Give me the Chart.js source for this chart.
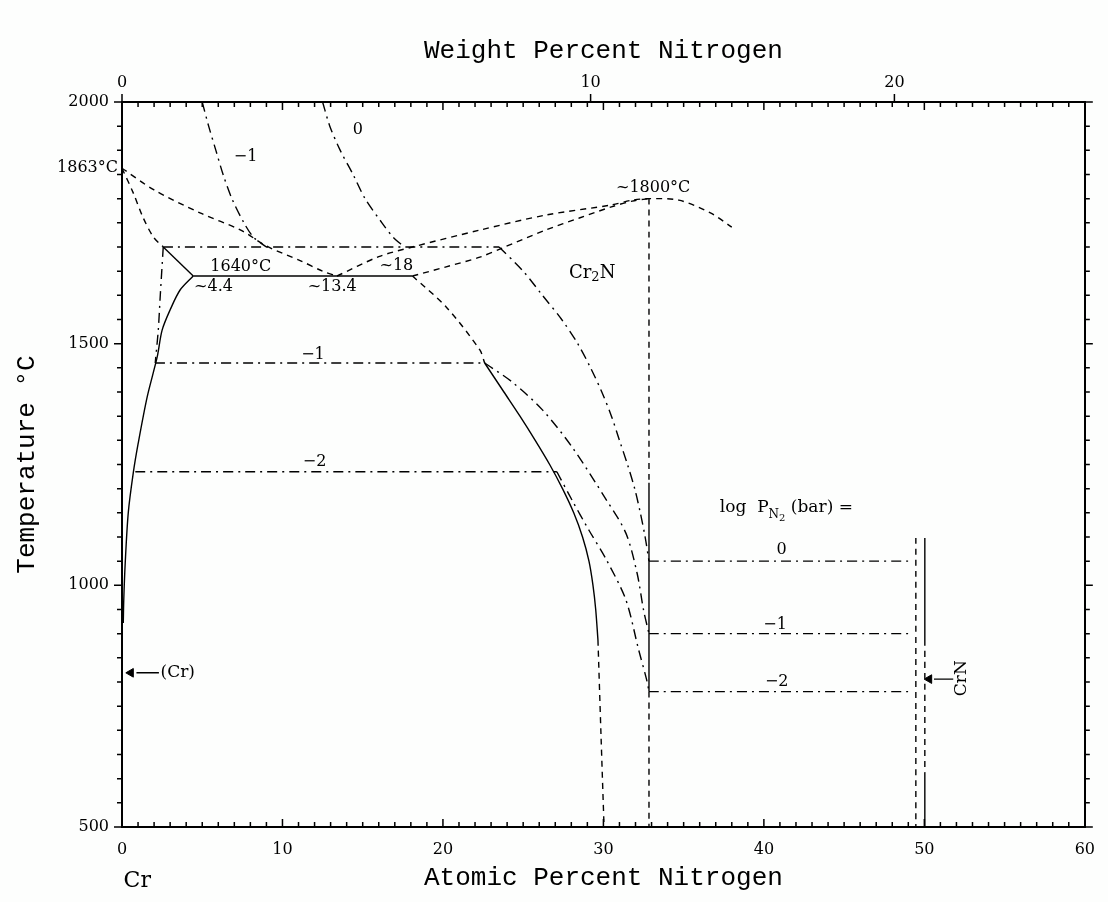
<!DOCTYPE html>
<html>
<head>
<meta charset="utf-8">
<title>Cr-N phase diagram</title>
<script src="https://cdn.jsdelivr.net/npm/chart.js@4.4.1/dist/chart.umd.min.js"></script>
<style>
  html, body { margin: 0; padding: 0; background: #fdfefd; }
  #wrap { width: 1108px; height: 902px; }
</style>
</head>
<body>
<div id="wrap"><canvas id="chart"></canvas></div>
<script>
// Cr-N diagram, points as [at.% N, temperature °C]
const liquidusCr = [[0, 1863], [2, 1818], [4.9, 1770], [7.4, 1735], [9, 1702], [11.1, 1672], [12.5, 1650], [13.4, 1640]];
const liquidusCr2N = [[13.4, 1640], [16, 1680], [18.1, 1700], [22.3, 1735], [26.4, 1766], [30.5, 1787], [31.8, 1797], [32.8, 1800], [34.7, 1797], [36.7, 1770], [38, 1741]];
const solidusCr = [[0, 1863], [0.7, 1812], [1.3, 1762], [1.95, 1721], [2.57, 1700]];
const solidusCrLow = [[2.57, 1700], [4.44, 1640]];
const eutectic = [[4.44, 1640], [18.1, 1640]];
const solvusCr = [[4.44, 1640], [3.62, 1611], [3.0, 1570], [2.5, 1528], [2.19, 1472], [1.57, 1390], [1.01, 1294], [0.7, 1232], [0.39, 1150], [0.2, 1046], [0.11, 970], [0.08, 922]];
const cr2nSolidus = [[18.1, 1640], [20.2, 1659], [22.3, 1679], [23.7, 1698], [26.4, 1735], [28.5, 1760], [30.5, 1783], [31.8, 1795], [32.8, 1800]];
const cr2nLeftHigh = [[18.1, 1640], [20.2, 1576], [22.3, 1487], [22.6, 1460]];
const cr2nLeft = [[22.6, 1460], [23.8, 1400], [24.8, 1350], [25.75, 1300], [26.65, 1250], [27.45, 1200], [28.15, 1150], [28.7, 1100], [29.1, 1050], [29.35, 1000], [29.52, 950], [29.66, 887]];
const cr2nLeftLow = [[29.66, 887], [29.85, 690], [30.04, 500]];
const cr2nRightHigh = [[32.84, 1800], [32.84, 1212]];
const cr2nRight = [[32.84, 1212], [32.84, 780]];
const cr2nRightLow = [[32.84, 780], [32.84, 500]];
const crnLeft = [[49.47, 1098], [49.47, 500]];
const crnHigh = [[50.03, 1098], [50.03, 887]];
const crnMid = [[50.03, 887], [50.03, 612]];
const crnLow = [[50.03, 612], [50.03, 500]];

// isobars, log P(N2) = 0, -1, -2
const isoZeroLiquid = [[12.5, 2000], [12.95, 1950], [13.6, 1900], [14.4, 1850], [15.15, 1800], [16.2, 1750], [16.9, 1720], [17.6, 1700]];
const isoOneLiquid = [[5.0, 2000], [5.4, 1950], [5.85, 1900], [6.3, 1850], [6.85, 1800], [7.6, 1750], [8.2, 1720], [9.0, 1700]];
const isoZeroFlat = [[2.57, 1700], [23.5, 1700]];
const isoZeroCr = [[2.57, 1700], [2.38, 1597], [2.26, 1528], [2.07, 1460]];
const isoZeroCr2N = [[23.5, 1700], [25.0, 1650], [26.2, 1600], [27.4, 1550], [28.4, 1500], [29.2, 1450], [29.9, 1400], [30.5, 1350], [31.0, 1300], [31.5, 1250], [31.95, 1200], [32.3, 1150], [32.6, 1100], [32.84, 1050]];
const isoZeroCrN = [[32.84, 1050], [49.2, 1050]];
const isoOneFlat = [[2.07, 1460], [22.6, 1460]];
const isoOneCr2N = [[22.6, 1460], [24.3, 1421], [26.2, 1363], [28.05, 1286], [30.2, 1176], [31.4, 1108], [32.1, 1025], [32.5, 949], [32.84, 900]];
const isoOneCrN = [[32.84, 900], [49.2, 900]];
const isoTwoFlat = [[0.83, 1235], [27.1, 1235]];
const isoTwoCr2N = [[27.1, 1235], [28.05, 1176], [29.1, 1114], [30.2, 1052], [31.4, 970], [32.2, 866], [32.7, 804], [32.84, 780]];
const isoTwoCrN = [[32.84, 780], [49.2, 780]];

// phase pointers
const crArrow = [[0.9, 819], [2.3, 819]];
const crArrowHead = [[0.55, 819]];
const crnArrow = [[50.6, 806], [51.8, 806]];
const crnArrowHead = [[50.3, 806]];

const atTicks = [0, 10, 20, 30, 40, 50, 60];
const tempTicks = [500, 1000, 1500, 2000];
const wtTicks = [0, 10, 20];

const notes = [
  { text: '1863°C', at: -0.25, t: 1863, align: 'right' },
  { text: '−1', at: 7.7, t: 1886 },
  { text: '0', at: 14.7, t: 1942 },
  { text: '1640°C', at: 7.4, t: 1659 },
  { text: '~4.4', at: 5.7, t: 1617 },
  { text: '~13.4', at: 13.1, t: 1617 },
  { text: '~18', at: 17.1, t: 1661 },
  { text: '~1800°C', at: 33.1, t: 1822 },
  { text: '−1', at: 11.9, t: 1476 },
  { text: '−2', at: 12.0, t: 1255 },
  { text: '0', at: 41.1, t: 1073 },
  { text: '−1', at: 40.7, t: 918 },
  { text: '−2', at: 40.8, t: 800 },
  { text: '(Cr)', at: 2.4, t: 819, align: 'left', font: '17px "DejaVu Serif"' },
  { text: 'CrN', at: 52.3, t: 808, rotate: true, font: '17px "DejaVu Serif"' },
  { text: 'Cr', at: 0.95, t: 388, font: '22px "DejaVu Serif"' }
];

function wtToAt(w) {
  const n = w / 14.007, cr = (100 - w) / 51.996;
  return 100 * n / (n + cr);
}

const DASH = [6, 5];
const DASHDOT = [10, 5, 2, 5];

function curve(points, dash) {
  return {
    data: points.map(p => ({ x: p[0], y: p[1] })),
    showLine: true,
    borderColor: '#000',
    borderWidth: 1.4,
    borderDash: dash || [],
    pointRadius: 0,
    tension: 0.3,
    fill: false
  };
}

function head(points) {
  return {
    data: points.map(p => ({ x: p[0], y: p[1] })),
    showLine: false,
    pointStyle: 'triangle',
    pointRotation: -90,
    pointRadius: 5,
    pointBackgroundColor: '#000',
    pointBorderColor: '#000'
  };
}

function rich(ctx, parts, px, py) {
  let w = 0;
  parts.forEach(p => { ctx.font = p.s + 'px "DejaVu Serif"'; w += ctx.measureText(p.t).width; });
  let cx = px - w / 2;
  parts.forEach(p => {
    ctx.font = p.s + 'px "DejaVu Serif"';
    ctx.textAlign = 'left';
    ctx.fillText(p.t, cx, py + (p.dy || 0));
    cx += ctx.measureText(p.t).width;
  });
}

const notePlugin = {
  id: 'notes',
  afterDraw(chart) {
    const { ctx, chartArea: a, scales } = chart;
    const x = scales.x, y = scales.y;
    ctx.save();
    ctx.strokeStyle = '#000';
    ctx.fillStyle = '#000';
    ctx.lineWidth = 1.5;

    // tick marks: at.% inward on bottom and top, °C outward on both sides
    ctx.beginPath();
    for (let v = 0; v <= 60; v++) {
      const px = x.getPixelForValue(v);
      const len = v % 10 === 0 ? 8 : 5;
      ctx.moveTo(px, a.bottom); ctx.lineTo(px, a.bottom - len);
      ctx.moveTo(px, a.top); ctx.lineTo(px, a.top + len);
    }
    for (let t = 500; t <= 2000; t += 50) {
      const py = y.getPixelForValue(t);
      const len = t % 500 === 0 ? 8 : 5;
      ctx.moveTo(a.left, py); ctx.lineTo(a.left - len, py);
      ctx.moveTo(a.right, py); ctx.lineTo(a.right + len, py);
    }
    scales.x2.ticks.forEach(tk => {
      const px = scales.x2.getPixelForValue(tk.value);
      ctx.moveTo(px, a.top); ctx.lineTo(px, a.top - 8);
    });
    ctx.stroke();

    ctx.textBaseline = 'middle';
    notes.forEach(n => {
      const px = x.getPixelForValue(n.at), py = y.getPixelForValue(n.t);
      ctx.font = n.font || '16px "DejaVu Serif"';
      ctx.textAlign = n.align || 'center';
      if (n.rotate) {
        ctx.save();
        ctx.translate(px, py);
        ctx.rotate(-Math.PI / 2);
        ctx.fillText(n.text, 0, 0);
        ctx.restore();
      } else {
        ctx.fillText(n.text, px, py);
      }
    });

    rich(ctx, [{ t: 'Cr', s: 18 }, { t: '2', s: 13, dy: 5 }, { t: 'N', s: 18 }],
      x.getPixelForValue(29.3), y.getPixelForValue(1646));
    rich(ctx, [{ t: 'log  P', s: 17 }, { t: 'N', s: 12, dy: 7 }, { t: '2', s: 10, dy: 10 }, { t: ' (bar) =', s: 17 }],
      x.getPixelForValue(41.4), y.getPixelForValue(1160));
    ctx.restore();
  }
};

const titleFont = { family: 'Liberation Mono', size: 26 };
const tickFont = { family: 'DejaVu Serif', size: 16 };
const edge = { display: true, color: '#000', width: 2 };
const noGrid = { drawOnChartArea: false, drawTicks: false };

new Chart(document.getElementById('chart'), {
  type: 'scatter',
  data: {
    datasets: [
      curve(liquidusCr, DASH),
      curve(liquidusCr2N, DASH),
      curve(solidusCr, DASH),
      curve(solidusCrLow),
      curve(eutectic),
      curve(solvusCr),
      curve(cr2nSolidus, DASH),
      curve(cr2nLeftHigh, DASH),
      curve(cr2nLeft),
      curve(cr2nLeftLow, DASH),
      curve(cr2nRightHigh, DASH),
      curve(cr2nRight),
      curve(cr2nRightLow, DASH),
      curve(crnLeft, DASH),
      curve(crnHigh),
      curve(crnMid, DASH),
      curve(crnLow),
      curve(isoZeroLiquid, DASHDOT),
      curve(isoOneLiquid, DASHDOT),
      curve(isoZeroFlat, DASHDOT),
      curve(isoZeroCr, DASHDOT),
      curve(isoZeroCr2N, DASHDOT),
      curve(isoZeroCrN, DASHDOT),
      curve(isoOneFlat, DASHDOT),
      curve(isoOneCr2N, DASHDOT),
      curve(isoOneCrN, DASHDOT),
      curve(isoTwoFlat, DASHDOT),
      curve(isoTwoCr2N, DASHDOT),
      curve(isoTwoCrN, DASHDOT),
      curve(crArrow),
      head(crArrowHead),
      curve(crnArrow),
      head(crnArrowHead)
    ]
  },
  options: {
    responsive: true,
    maintainAspectRatio: false,
    animation: false,
    layout: { padding: 0 },
    plugins: { legend: { display: false }, tooltip: { enabled: false } },
    scales: {
      x: {
        type: 'linear', position: 'bottom', min: 0, max: 60,
        afterFit: s => { s.height = 75; },
        afterBuildTicks: s => { s.ticks = atTicks.map(v => ({ value: v })); },
        ticks: { font: tickFont, color: '#000', padding: 13, maxRotation: 0 },
        grid: noGrid, border: edge,
        title: { display: true, text: 'Atomic Percent Nitrogen', font: titleFont, color: '#000', padding: { bottom: 8 } }
      },
      x2: {
        type: 'linear', position: 'top', min: 0, max: 60,
        afterFit: s => { s.height = 102; },
        afterBuildTicks: s => { s.ticks = wtTicks.map(w => ({ value: wtToAt(w) })); },
        ticks: { font: tickFont, color: '#000', padding: 10, autoSkip: false, maxRotation: 0, callback: (v, i) => String(wtTicks[i]) },
        grid: noGrid, border: edge,
        title: { display: true, text: 'Weight Percent Nitrogen', font: titleFont, color: '#000', padding: { top: 36 } }
      },
      y: {
        type: 'linear', position: 'left', min: 500, max: 2000,
        afterFit: s => { s.width = 122; },
        afterBuildTicks: s => { s.ticks = tempTicks.map(v => ({ value: v })); },
        ticks: { font: tickFont, color: '#000', padding: 13, callback: v => String(v) },
        grid: noGrid, border: edge,
        title: { display: true, text: 'Temperature °C', font: titleFont, color: '#000', padding: { top: 12 } }
      },
      y2: {
        type: 'linear', position: 'right', min: 500, max: 2000,
        afterFit: s => { s.width = 21; },
        ticks: { display: false },
        grid: noGrid, border: edge
      }
    }
  },
  plugins: [notePlugin]
});
</script>
</body>
</html>
